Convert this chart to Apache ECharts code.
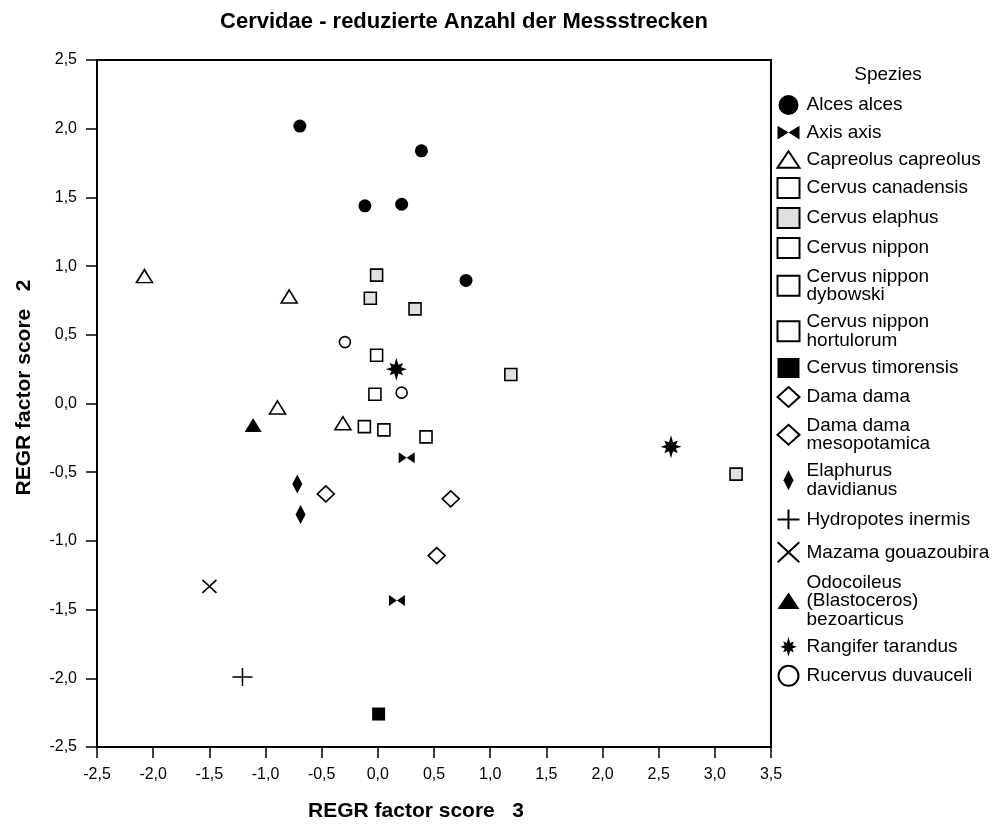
<!DOCTYPE html>
<html>
<head>
<meta charset="utf-8">
<script src="https://cdn.jsdelivr.net/npm/echarts@6/dist/echarts.min.js"></script>
<style>
html,body{margin:0;padding:0;background:#fff;}
#chart{width:995px;height:827px;}
</style>
</head>
<body>
<div id="chart"></div>
<script>
// ---- Data (REGR factor score 3 = x, REGR factor score 2 = y) ----
var alcesAlces = [[-0.694, 2.019], [0.388, 1.839], [-0.115, 1.439], [0.212, 1.450], [0.785, 0.896]];
var axisAxis = [[0.257, -0.394], [0.170, -1.434]];
var capreolusCapreolus = [[-2.078, 0.927], [-0.789, 0.779], [-0.893, -0.029], [-0.311, -0.144]];
var cervusCanadensis = [[-0.011, 0.351], [0.429, -0.243]];
var cervusElaphus = [[-0.011, 0.934], [-0.067, 0.766], [0.331, 0.689], [1.184, 0.211], [3.189, -0.514]];
var cervusNippon = [[-0.026, 0.067]];
var cervusNipponDybowski = [[-0.120, -0.168]];
var cervusNipponHortulorum = [[0.054, -0.192]];
var cervusTimorensis = [[0.007, -2.260]];
var damaDama = [[-0.463, -0.658], [0.649, -0.694]];
var damaDamaMesopotamica = [[0.524, -1.107]];
var elaphurusDavidianus = [[-0.717, -0.586], [-0.688, -0.807]];
var hydropotesInermis = [[-1.205, -1.991]];
var mazamaGouazoubira = [[-1.499, -1.331]];
var odocoileusBezoarticus = [[-1.110, -0.157]];
var rangiferTarandus = [[0.165, 0.250], [2.610, -0.315]];
var rucervusDuvauceli = [[-0.293, 0.447], [0.212, 0.079]];

var speciesNames = [
  'Alces alces', 'Axis axis', 'Capreolus capreolus', 'Cervus canadensis', 'Cervus elaphus',
  'Cervus nippon', 'Cervus nippon\ndybowski', 'Cervus nippon\nhortulorum', 'Cervus timorensis',
  'Dama dama', 'Dama dama\nmesopotamica', 'Elaphurus\ndavidianus', 'Hydropotes inermis',
  'Mazama gouazoubira', 'Odocoileus\n(Blastoceros)\nbezoarticus', 'Rangifer tarandus', 'Rucervus duvauceli'
];
var speciesData = [
  alcesAlces, axisAxis, capreolusCapreolus, cervusCanadensis, cervusElaphus,
  cervusNippon, cervusNipponDybowski, cervusNipponHortulorum, cervusTimorensis,
  damaDama, damaDamaMesopotamica, elaphurusDavidianus, hydropotesInermis,
  mazamaGouazoubira, odocoileusBezoarticus, rangiferTarandus, rucervusDuvauceli
];
var xTicks = [-2.5, 3.5, 0.5];
var yTicks = [-2.5, 2.5, 0.5];
var titleText = 'Cervidae - reduzierte Anzahl der Messstrecken';
var xName = 'REGR factor score   3';
var yName = 'REGR factor score   2';
var legendTitle = 'Spezies';

// ---- Symbols / styles ----
var FONT = '"Liberation Sans", Arial, sans-serif';
var P_BOWTIE = 'path://M0,0 L8,5 L16,0 L16,10 L8,5 L0,10 Z';
var P_TRI = 'path://M10,0 L20,15 L0,15 Z';
var P_STAR = 'path://M0,-12 L1.9,-4.6 L6.4,-6.4 L4.6,-1.9 L10,0 L4.6,1.9 L6.4,6.4 L1.9,4.6 L0,12 L-1.9,4.6 L-6.4,6.4 L-4.6,1.9 L-10,0 L-4.6,-1.9 L-6.4,-6.4 L-1.9,-4.6 Z';
var P_NDIAM = 'path://M5,0 L10,10 L5,20 L0,10 Z';
var P_PLUS = 'path://M0,9 L20,9 M10,0 L10,18';
var P_X = 'path://M0,0 L14,13 M14,0 L0,13';

var styles = [
  {symbol: 'circle', size: 13, color: '#000', border: 0},
  {symbol: P_BOWTIE, size: [16, 11], color: '#000', border: 0},
  {symbol: P_TRI, size: [16, 13], color: '#fff', border: 1.6},
  {symbol: 'rect', size: 12, color: '#fff', border: 1.6},
  {symbol: 'rect', size: 12, color: '#e0e0e0', border: 1.6},
  {symbol: 'rect', size: 12, color: '#fff', border: 1.6},
  {symbol: 'rect', size: 12, color: '#fff', border: 1.6},
  {symbol: 'rect', size: 12, color: '#fff', border: 1.6},
  {symbol: 'rect', size: 13, color: '#000', border: 0},
  {symbol: 'diamond', size: [17, 16], color: '#fff', border: 1.6},
  {symbol: 'diamond', size: [17, 16], color: '#fff', border: 1.6},
  {symbol: P_NDIAM, size: [10, 19], color: '#000', border: 0},
  {symbol: P_PLUS, size: [20, 18], color: 'none', border: 1.5},
  {symbol: P_X, size: [14, 13], color: 'none', border: 1.5},
  {symbol: P_TRI, size: [17, 14], color: '#000', border: 0},
  {symbol: P_STAR, size: [21, 23], color: '#000', border: 0},
  {symbol: 'circle', size: 11, color: '#fff', border: 1.6}
];

var series = speciesNames.map(function (name, i) {
  var s = styles[i];
  return {
    type: 'scatter',
    name: name,
    data: speciesData[i],
    symbol: s.symbol,
    symbolSize: s.size,
    itemStyle: {color: s.color, borderColor: '#000', borderWidth: s.border, opacity: 1},
    emphasis: {disabled: true},
    z: 3
  };
});

var chart = echarts.init(document.getElementById('chart'), null, {renderer: 'canvas'});
chart.setOption({
  backgroundColor: '#fff',
  animation: false,
  title: [
    {text: titleText, left: 464, top: 11, textAlign: 'center', padding: 0,
     textStyle: {fontFamily: FONT, fontSize: 22, fontWeight: 'bold', color: '#000'}},
    {text: legendTitle, left: 888, top: 65, textAlign: 'center', padding: 0,
     textStyle: {fontFamily: FONT, fontSize: 19, fontWeight: 'normal', color: '#000'}}
  ],
  legend: {
    orient: 'vertical',
    left: 775,
    top: 95,
    padding: 0,
    itemGap: 8,
    itemWidth: 22,
    itemHeight: 20,
    selectedMode: false,
    symbolKeepAspect: true,
    data: speciesNames,
    textStyle: {fontFamily: FONT, fontSize: 19, lineHeight: 18.5, color: '#000', padding: [0, 0, 0, 2]}
  },
  grid: {left: 97, right: 224, top: 60, bottom: 72, show: true, borderColor: '#000', borderWidth: 2, backgroundColor: 'transparent'},
  xAxis: {
    type: 'value', min: xTicks[0], max: xTicks[1], interval: xTicks[2],
    name: xName, nameLocation: 'middle', nameGap: 54,
    nameTextStyle: {fontFamily: FONT, fontSize: 21, fontWeight: 'bold', color: '#000', padding: [0, 36, 0, 0]},
    axisLine: {show: true, onZero: false, lineStyle: {color: '#000', width: 2}},
    axisTick: {show: true, inside: false, length: 11, lineStyle: {color: '#000', width: 1.5}},
    axisLabel: {fontFamily: FONT, fontSize: 16, color: '#000', margin: 20,
      formatter: function (v) { return v.toFixed(1).replace('.', ','); }},
    splitLine: {show: false}
  },
  yAxis: {
    type: 'value', min: yTicks[0], max: yTicks[1], interval: yTicks[2],
    name: yName, nameLocation: 'middle', nameGap: 62,
    nameTextStyle: {fontFamily: FONT, fontSize: 21, fontWeight: 'bold', color: '#000', padding: [0, 0, 0, 32]},
    axisLine: {show: true, onZero: false, lineStyle: {color: '#000', width: 2}},
    axisTick: {show: true, inside: false, length: 11, lineStyle: {color: '#000', width: 1.5}},
    axisLabel: {fontFamily: FONT, fontSize: 16, color: '#000', margin: 20,
      formatter: function (v) { return v.toFixed(1).replace('.', ','); }},
    splitLine: {show: false}
  },
  series: series
});
</script>
</body>
</html>
